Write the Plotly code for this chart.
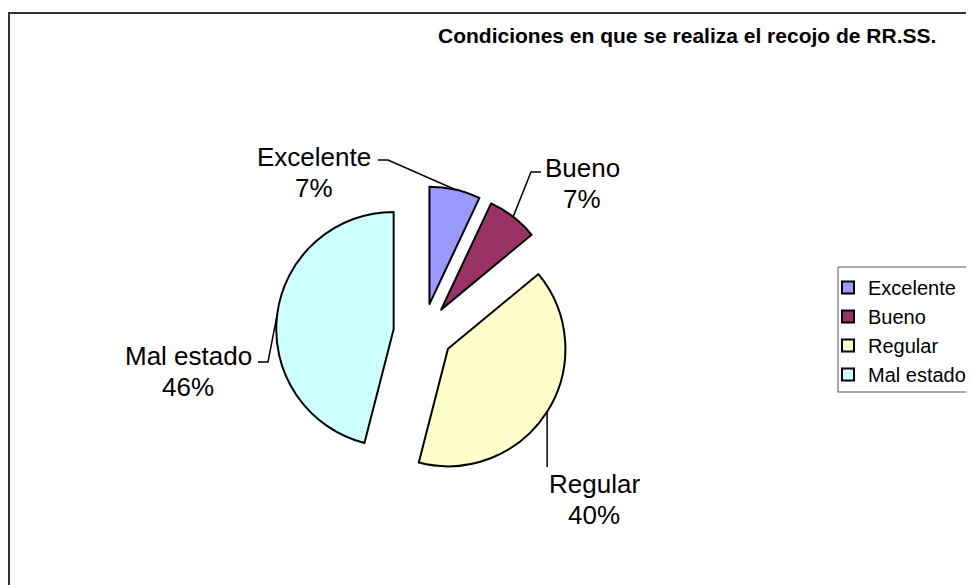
import numpy as np
import plotly.graph_objects as go

# data
condiciones = ["Excelente", "Bueno", "Regular", "Mal estado"]
valores = [7, 7, 40, 46]
colores = ["#9999FF", "#993366", "#FFFFCC", "#CCFFFF"]
titulo = "Condiciones en que se realiza el recojo de RR.SS."

# the page puts the figure 8px in from the window corner
OFF = 8
W, H = 974 - OFF, 585 - OFF
FONT = "Liberation Sans, Arial, sans-serif"


def px(x):
    return (x - OFF) / W


def py(y):
    return 1 - (y - OFF) / H


# pie placement (window pixels)
cx, cy, ext = 423, 333, 147
pull = 0.252
dom_x = [px(cx - ext), px(cx + ext)]
dom_y = [py(cy + ext), py(cy - ext)]

fig = go.Figure()
fig.add_trace(go.Pie(
    labels=condiciones, values=valores, sort=False,
    direction="clockwise", rotation=0,
    pull=[pull] * len(valores),
    marker=dict(colors=colores, line=dict(color="black", width=2)),
    textinfo="none", hoverinfo="label+percent",
    domain=dict(x=dom_x, y=dom_y),
))

# mid angles of slices, clockwise from 12 o'clock
vals = np.array(valores, dtype=float)
frac = vals / vals.sum()
mid = 2 * np.pi * (np.cumsum(frac) - frac / 2)
pct = np.round(frac * 100).astype(int)

# label layout: text centre x, first line y, leader start, elbow
label_pos = {
    "Excelente": dict(x=314, y=157, p0=(378, 160), p1=(388, 160)),
    "Bueno": dict(x=582, y=168, p0=(541, 172), p1=(531, 172)),
    "Regular": dict(x=594, y=484, p0=None, p1=None),
    "Mal estado": dict(x=188, y=356, p0=(258, 362), p1=(268, 362)),
}

for name, p, a in zip(condiciones, pct, mid):
    lp = label_pos[name]
    ax_ = cx + ext * np.sin(a)
    ay_ = cy - ext * np.cos(a)
    for txt, dy in [(name, 0), (f"{p}%", 31)]:
        fig.add_annotation(x=px(lp["x"]), y=py(lp["y"] + dy), xref="paper", yref="paper",
                           text=txt, showarrow=False, xanchor="center", yanchor="middle",
                           font=dict(family=FONT, size=26, color="black"))
    if lp["p0"] is None:
        path = f"M{px(ax_)},{py(ay_)} L{px(ax_)},{py(467)}"
    else:
        path = (f"M{px(lp['p0'][0])},{py(lp['p0'][1])} L{px(lp['p1'][0])},{py(lp['p1'][1])} "
                f"L{px(ax_)},{py(ay_)}")
    fig.add_shape(type="path", path=path, xref="paper", yref="paper",
                  line=dict(color="black", width=1.5))

# chart frame and legend box
fig.add_shape(type="rect", xref="paper", yref="paper",
              x0=px(9), x1=px(990), y0=py(600), y1=py(13),
              line=dict(color="#333333", width=2))
fig.add_shape(type="rect", xref="paper", yref="paper",
              x0=px(838), x1=px(973), y0=py(392), y1=py(267),
              line=dict(color="#555555", width=1))

fig.add_annotation(x=px(938), y=py(35), xref="paper", yref="paper", text=f"<b>{titulo}</b>",
                   showarrow=False, xanchor="right", yanchor="middle",
                   font=dict(family=FONT, size=21, color="black"))

fig.update_layout(
    width=W, height=H,
    margin=dict(l=0, r=0, t=0, b=0),
    paper_bgcolor="white", plot_bgcolor="white",
    font=dict(family=FONT, color="black"),
    showlegend=True,
    legend=dict(x=px(828), y=py(268), xanchor="left", yanchor="top",
                font=dict(family=FONT, size=20, color="black"),
                bgcolor="rgba(0,0,0,0)", borderwidth=0, itemwidth=30),
)

fig.write_html("out.html")
